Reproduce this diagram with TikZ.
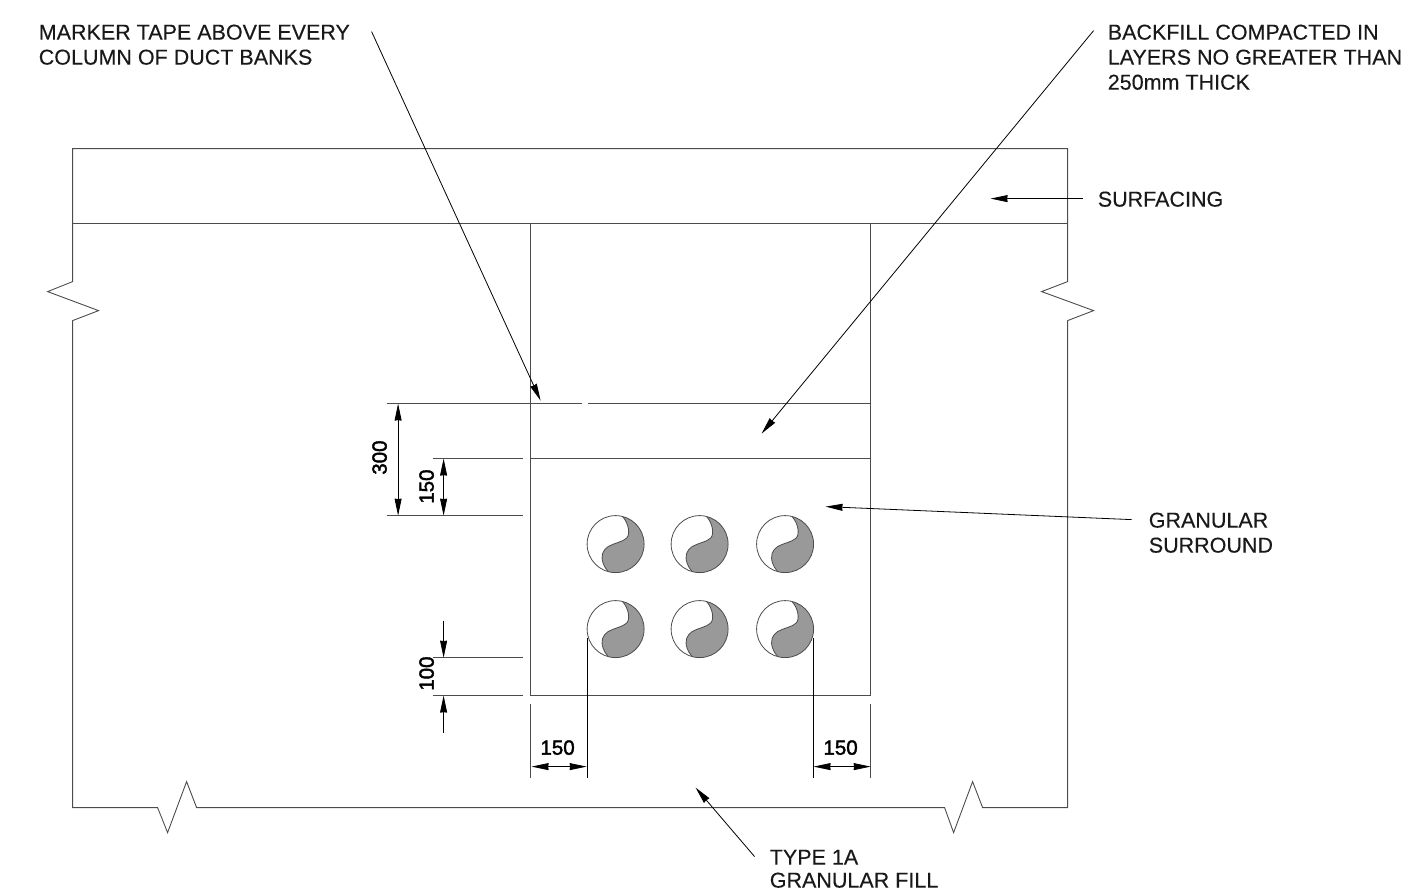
\documentclass[tikz,border=0pt]{standalone}
\usepackage{fontspec}
\setmainfont{Liberation Sans}
\newfontfamily\dimfont[FakeBold=2]{Liberation Sans}
\newfontfamily\notefont[FakeBold=0.25]{Liberation Sans}
\usetikzlibrary{arrows.meta}
\definecolor{linec}{gray}{0.3}
\definecolor{ductgray}{gray}{0.6}
\tikzset{
  wall/.style={draw=linec,line width=0.9pt,line join=miter},
  thin leader/.style={draw=black,line width=0.8pt},
  tip/.style={thin leader,-{Stealth[length=17pt,width=7pt,inset=0.5pt]}},
  tipb/.style={thin leader,{Stealth[length=17pt,width=7pt,inset=0.5pt]}-{Stealth[length=17pt,width=7pt,inset=0.5pt]}},
  note/.style={anchor=base west,inner sep=0pt,font=\fontsize{21.5}{25}\notefont,text=black!90},
  dimlab/.style={inner sep=0pt,font=\fontsize{20.5}{24}\dimfont,text=black},
  duct/.pic={
    \fill[ductgray] (6.9,-27.6) .. controls (13,-21) and (15,-10) .. (11,-6)
      .. controls (7,-2) and (-2,-1) .. (-7.5,2.5)
      .. controls (-13,6) and (-15,12) .. (-12.5,19)
      .. controls (-11,23) and (-9.5,25) .. (-7.4,27.5)
      arc[start angle=-105,end angle=76,radius=28.5pt] -- cycle;
    \draw[draw=linec,line width=0.8pt] (6.9,-27.6) .. controls (13,-21) and (15,-10) .. (11,-6)
      .. controls (7,-2) and (-2,-1) .. (-7.5,2.5)
      .. controls (-13,6) and (-15,12) .. (-12.5,19)
      .. controls (-11,23) and (-9.5,25) .. (-7.4,27.5);
    \draw[draw=linec,line width=0.8pt] (0,0) circle[radius=28.5pt];
  }
}
\begin{document}
\begin{tikzpicture}[x=1pt,y=-1pt]
\useasboundingbox (0.4,0.4) rectangle (1413.4,895.4);
% carriageway outline
\draw[wall] (73,224) -- (73,149) -- (1068,149) -- (1068,282) -- (1042,292) -- (1094,311) -- (1068,321)
  -- (1068,808) -- (983,808) -- (973,782) -- (954,833) -- (945,808) -- (197,808) -- (187,782)
  -- (168,833) -- (158,808) -- (73,808) -- (73,321) -- (99,311) -- (48,292) -- (73,282) -- (73,224);
\draw[wall] (73,224) -- (1068,224);
% trench
\draw[wall] (531,224) -- (531,696) -- (871,696) -- (871,224);
% level lines
\draw[wall] (387,404) -- (582,404);
\draw[wall] (588,404) -- (871,404);
\draw[wall] (433,459) -- (523,459);
\draw[wall] (531,459) -- (871,459);
\draw[wall] (387,516) -- (523,516);
\draw[wall] (433,658) -- (523,658);
\draw[wall] (433,696) -- (523,696);
% ducts
\pic at (616,544.5) {duct};
\pic at (700,544.5) {duct};
\pic at (785.5,544.5) {duct};
\pic at (616,629.5) {duct};
\pic at (700,629.5) {duct};
\pic at (785.5,629.5) {duct};
% extension lines
\draw[wall] (531,704) -- (531,778);
\draw[wall] (871,704) -- (871,778);
\draw[thin leader] (587.5,638) -- (587.5,778);
\draw[thin leader] (814,638) -- (814,778);
% dimensions
\coordinate (d300a) at (398.5,404); \coordinate (d300b) at (398.5,516);
\coordinate (d150a) at (444,459); \coordinate (d150b) at (444,516);
\draw[tipb] (d300a) -- (d300b);
\draw[tipb] (d150a) -- (d150b);
\coordinate (d100a) at (444,621); \coordinate (d100b) at (444,658);
\coordinate (d100c) at (444,733); \coordinate (d100d) at (444,696);
\draw[tip] (d100a) -- (d100b);
\draw[tip] (d100c) -- (d100d);
\coordinate (dla) at (532,767); \coordinate (dlb) at (587,767);
\coordinate (dra) at (814,767); \coordinate (drb) at (871,767);
\draw[tipb] (dla) -- (dlb);
\draw[tipb] (dra) -- (drb);
\node[dimlab,rotate=90] (n300) at (380,458) {300};
\node[dimlab,rotate=90] (n150v) at (427,487) {150};
\node[dimlab,rotate=90] (n100) at (427,674) {100};
\node[dimlab] (n150l) at (558,748) {150};
\node[dimlab] (n150r) at (841,748) {150};
% notes
\node[note] (t1) at (39,40) {MARKER TAPE ABOVE EVERY};
\node[note] (t2) at (39,65) {COLUMN OF DUCT BANKS};
\node[note] (t3) at (1108,40) {BACKFILL COMPACTED IN};
\node[note] (t4) at (1108,65) {LAYERS NO GREATER THAN};
\node[note] (t5) at (1108,90) {250mm THICK};
\node[note] (t6) at (1098,207) {SURFACING};
\node[note] (t7) at (1149,528) {GRANULAR};
\node[note] (t8) at (1149,553) {SURROUND};
\node[note] (t9) at (770,865) {TYPE 1A};
\node[note] (t10) at (770,888) {GRANULAR FILL};
% leaders
\coordinate (l1a) at (372,32); \coordinate (l1b) at (541,401);
\coordinate (l2a) at (1094,31); \coordinate (l2b) at (762,434);
\coordinate (l3a) at (1083,199); \coordinate (l3b) at (991,199);
\coordinate (l4a) at (1132,520); \coordinate (l4b) at (826,507);
\coordinate (l5a) at (755,857); \coordinate (l5b) at (696,788);
\draw[tip] (l1a) -- (l1b);
\draw[tip] (l2a) -- (l2b);
\draw[tip] (l3a) -- (l3b);
\draw[tip] (l4a) -- (l4b);
\draw[tip] (l5a) -- (l5b);
\end{tikzpicture}
\end{document}
